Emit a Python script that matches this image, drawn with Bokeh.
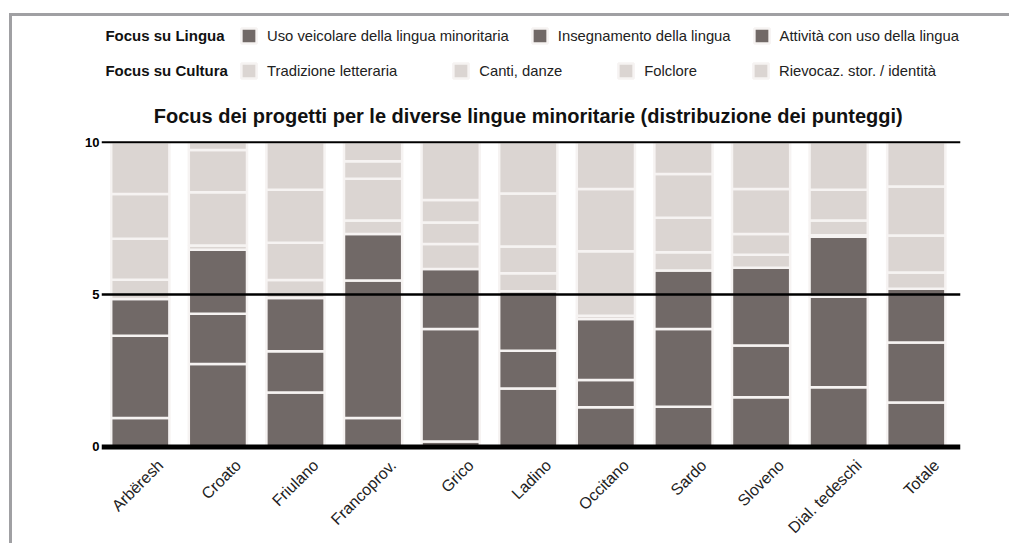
from math import pi
from bokeh.plotting import figure
from bokeh.models import Range1d, Span, Label, Legend, LegendItem, FixedTicker, LinearAxis
from bokeh.embed import file_html
from bokeh.resources import INLINE

lingue = ["Arbëresh", "Croato", "Friulano", "Francoprov.", "Grico", "Ladino",
          "Occitano", "Sardo", "Sloveno", "Dial. tedeschi", "Totale"]

# Focus su Lingua
uso_veicolare = [0.95, 2.72, 1.79, 0.95, 0.18, 1.92, 1.30, 1.32, 1.63, 1.96, 1.46]
insegnamento  = [2.70, 1.65, 1.35, 4.51, 3.69, 1.24, 0.90, 2.55, 1.70, 2.97, 1.97]
attivita      = [1.21, 2.10, 1.75, 1.53, 1.97, 1.95, 2.00, 1.92, 2.55, 1.97, 1.76]
# Focus su Cultura
tradizione    = [0.63, 0.14, 0.59, 0.44, 0.82, 0.59, 0.11, 0.60, 0.43, 0.05, 0.54]
canti         = [1.34, 1.75, 1.22, 1.37, 0.71, 0.88, 2.11, 1.13, 0.68, 0.48, 1.21]
folclore      = [1.47, 1.39, 1.74, 0.58, 0.74, 1.74, 2.05, 1.44, 1.48, 1.01, 1.61]
rievocaz      = [1.70, 0.25, 1.56, 0.62, 1.89, 1.68, 1.53, 1.04, 1.53, 1.56, 1.45]

serie_lingua = ["Uso veicolare della lingua minoritaria", "Insegnamento della lingua",
                "Attività con uso della lingua"]
serie_cultura = ["Tradizione letteraria", "Canti, danze", "Folclore",
                 "Rievocaz. stor. / identità"]
y_ticks = [0, 5, 10]
titolo = "Focus dei progetti per le diverse lingue minoritarie (distribuzione dei punteggi)"

DARK = "#716967"
LIGHT = "#dbd5d2"
FONT = "Liberation Sans"

pos = list(range(len(lingue)))
keys = ["uso", "ins", "att", "tra", "can", "fol", "rie"]
data = dict(x=pos, uso=uso_veicolare, ins=insegnamento, att=attivita,
            tra=tradizione, can=canti, fol=folclore, rie=rievocaz)

X0, X1 = -0.5, 10.57
SHIFT = 0.26  # category labels sit slightly right of the bar centres
p = figure(x_range=Range1d(X0, X1), y_range=Range1d(-0.15, 14.13),
           width=1000, height=530, output_backend="svg", toolbar_location=None,
           title=None, x_axis_location=None,
           min_border_left=89, min_border_right=52, min_border_top=0,
           min_border_bottom=95)
p.extra_x_ranges = {"lab": Range1d(X0 - SHIFT, X1 - SHIFT)}
p.styles = {"border-top": "3px solid #a0a0a3", "border-left": "3px solid #a0a0a3",
            "margin-left": "9px", "margin-top": "13px"}

rs = p.vbar_stack(keys, x="x", width=0.75, source=data,
                  color=[DARK] * 3 + [LIGHT] * 4,
                  line_color="#f6f3f2", line_width=2.5)

p.xgrid.grid_line_color = None
p.ygrid.grid_line_color = None
p.outline_line_color = None
p.background_fill_color = "white"

for loc, w in [(10, 2), (5, 2.5), (0, 5)]:
    p.add_layout(Span(location=loc, dimension="width", line_color="black", line_width=w))

p.yaxis.ticker = FixedTicker(ticks=y_ticks)
p.yaxis.axis_line_color = None
p.yaxis.major_tick_line_color = None
p.yaxis.minor_tick_line_color = None
p.yaxis.major_tick_out = 0
p.yaxis.major_label_standoff = 2
p.yaxis.major_label_text_font = FONT
p.yaxis.major_label_text_font_style = "bold"
p.yaxis.major_label_text_font_size = "13px"
p.yaxis.major_label_text_color = "black"

xax = LinearAxis(x_range_name="lab", ticker=FixedTicker(ticks=pos),
                 major_label_overrides={i: name for i, name in zip(pos, lingue)})
xax.axis_line_color = None
xax.major_tick_line_color = None
xax.minor_tick_line_color = None
xax.major_tick_out = 0
xax.major_label_standoff = 11
xax.major_label_orientation = pi / 4
xax.major_label_text_font = FONT
xax.major_label_text_font_size = "16px"
xax.major_label_text_color = "#222222"
p.add_layout(xax, "below")

def make_legend(names, rends, loc, spacing):
    leg = Legend(items=[LegendItem(label=n, renderers=[r]) for n, r in zip(names, rends)],
                 orientation="horizontal", location=loc, spacing=spacing,
                 glyph_width=19, glyph_height=19, label_height=15, label_standoff=9,
                 padding=0, margin=0, border_line_color=None, background_fill_alpha=0,
                 label_text_font=FONT, label_text_font_size="14.8px",
                 label_text_color="#222222", click_policy="none")
    return leg

p.add_layout(make_legend(serie_lingua, rs[:3], (138, 406), 21))
p.add_layout(make_legend(serie_cultura, rs[3:], (138, 371), 54))

for txt, yy in [("Focus su Lingua", 13.5), ("Focus su Cultura", 12.36)]:
    p.add_layout(Label(x=-0.45, y=yy, text=txt, text_font=FONT, text_font_style="bold",
                       text_font_size="15px", text_color="#111111",
                       text_align="left", text_baseline="middle"))

p.add_layout(Label(x=5.0, y=10.88, text=titolo, text_font=FONT, text_font_style="bold",
                   text_font_size="20px", text_color="#111111",
                   text_align="center", text_baseline="middle"))

open("out.html", "w").write(file_html(p, INLINE))
